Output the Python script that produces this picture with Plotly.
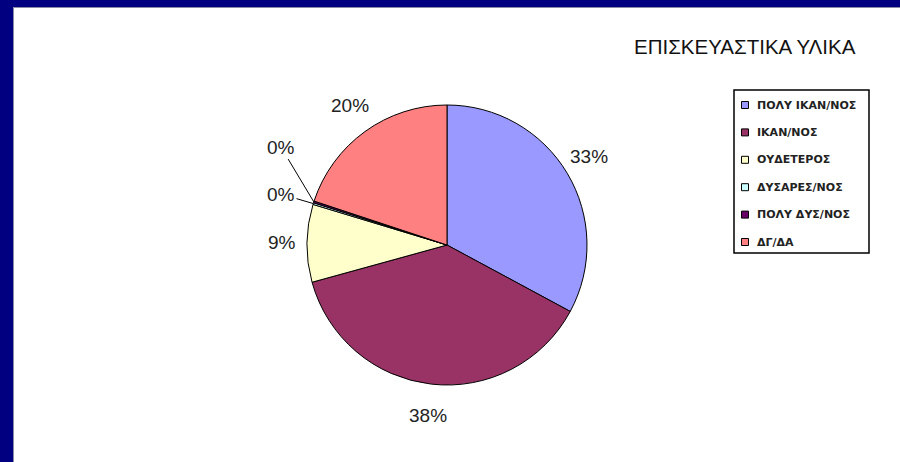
import math
import plotly.graph_objects as go

# Survey responses for repair materials
categories = ["ΠΟΛΥ ΙΚΑΝ/ΝΟΣ", "ΙΚΑΝ/ΝΟΣ", "ΟΥΔΕΤΕΡΟΣ", "ΔΥΣΑΡΕΣ/ΝΟΣ", "ΠΟΛΥ ΔΥΣ/ΝΟΣ", "ΔΓ/ΔΑ"]
shares = [33, 38, 9, 0.2, 0.2, 20]
colors = ["#9999FF", "#993366", "#FFFFCC", "#CCFFFF", "#660066", "#FF8080"]
title_text = "ΕΠΙΣΚΕΥΑΣΤΙΚΑ ΥΛΙΚΑ"

W, H = 900, 462
LABEL_FONT = dict(family="Liberation Sans, Arial, sans-serif", size=19, color="#222222")


def px(x):
    return x / W


def py(y):
    return 1 - y / H


fig = go.Figure()

# pie: centre (447, 245), radius 140 px, first slice at 12 o'clock, clockwise
cx, cy, r = 447, 245, 140
fig.add_trace(go.Pie(
    labels=categories,
    values=shares,
    sort=False,
    direction="clockwise",
    rotation=0,
    marker=dict(colors=colors, line=dict(color="#000000", width=1)),
    textinfo="none",
    domain=dict(x=[px(cx - r), px(cx + r)], y=[py(cy + r), py(cy - r)]),
    showlegend=False,
    hoverinfo="label+percent",
))

shapes = []
annotations = []

# percentage labels placed around the pie at each slice's mid-angle
total = sum(shares)
lab_rx, lab_ry = 165, 172
labels = []
acc = 0.0
for v in shares:
    frac = v / total
    theta = 2 * math.pi * (acc + frac / 2)
    acc += frac
    labels.append(dict(
        text=f"{round(100 * frac)}%",
        theta=theta,
        x=cx + lab_rx * math.sin(theta),
        y=cy - lab_ry * math.cos(theta),
        tiny=frac < 0.01,
    ))

# labels of very thin slices are stacked upwards and joined to the pie by leader lines
min_gap = 47
left = sorted([l for l in labels if math.sin(l["theta"]) < 0], key=lambda l: -l["y"])
prev_y = None
for l in left:
    if l["tiny"] and prev_y is not None and prev_y - l["y"] < min_gap:
        l["y"] = prev_y - min_gap
    if l["tiny"]:
        l["x"] = cx - lab_rx - 1
    prev_y = l["y"]

for l in labels:
    if l["tiny"]:
        ex = cx + r * math.sin(l["theta"])
        ey = cy - r * math.cos(l["theta"])
        annotations.append(dict(
            text=l["text"], xref="paper", yref="paper",
            x=px(ex), y=py(ey), ax=l["x"] - ex, ay=l["y"] - ey,
            showarrow=True, arrowhead=0, arrowwidth=1, arrowcolor="#000000",
            standoff=0, font=LABEL_FONT,
        ))
    else:
        annotations.append(dict(
            text=l["text"], xref="paper", yref="paper",
            x=px(l["x"]), y=py(l["y"]), xanchor="center", yanchor="middle",
            showarrow=False, font=LABEL_FONT,
        ))

# navy frame along the top and left edges
shapes.append(dict(type="rect", xref="paper", yref="paper",
                   x0=0, x1=1, y0=py(7), y1=1,
                   fillcolor="#000080", line=dict(width=0), layer="above"))
shapes.append(dict(type="rect", xref="paper", yref="paper",
                   x0=0, x1=px(13), y0=0, y1=1,
                   fillcolor="#000080", line=dict(width=0), layer="above"))
shapes.append(dict(type="line", xref="paper", yref="paper",
                   x0=px(13.5), x1=px(13.5), y0=0, y1=py(7),
                   line=dict(color="#8a8aa8", width=1), layer="above"))
shapes.append(dict(type="line", xref="paper", yref="paper",
                   x0=px(13), x1=1, y0=py(7.5), y1=py(7.5),
                   line=dict(color="#8a8aa8", width=1), layer="above"))

# chart title
annotations.append(dict(text=title_text, xref="paper", yref="paper",
                        x=px(632), y=py(47), xanchor="left", yanchor="middle",
                        showarrow=False,
                        font=dict(family="Liberation Sans, Arial, sans-serif", size=20.5, color="#111111")))

# legend box
lx0, lx1, ly0, ly1 = 734, 869, 90, 253
shapes.append(dict(type="rect", xref="paper", yref="paper",
                   x0=px(lx0), x1=px(lx1), y0=py(ly1), y1=py(ly0),
                   fillcolor="#ffffff", line=dict(color="#000000", width=1.5)))
row0, step = 105, 27.4
for i, (name, col) in enumerate(zip(categories, colors)):
    yc = row0 + i * step
    shapes.append(dict(type="rect", xref="paper", yref="paper",
                       x0=px(741.5), x1=px(748.5), y0=py(yc + 3.5), y1=py(yc - 3.5),
                       fillcolor=col, line=dict(color="#000000", width=1)))
    annotations.append(dict(text=name, xref="paper", yref="paper",
                            x=px(755), y=py(yc), xanchor="left", yanchor="middle",
                            showarrow=False,
                            font=dict(family="DejaVu Sans, sans-serif", size=11, color="#222222",
                                      weight="bold")))

fig.update_layout(
    width=W, height=H,
    margin=dict(l=0, r=0, t=0, b=0),
    paper_bgcolor="#ffffff",
    plot_bgcolor="#ffffff",
    shapes=shapes,
    annotations=annotations,
)

fig.write_html("out.html")
